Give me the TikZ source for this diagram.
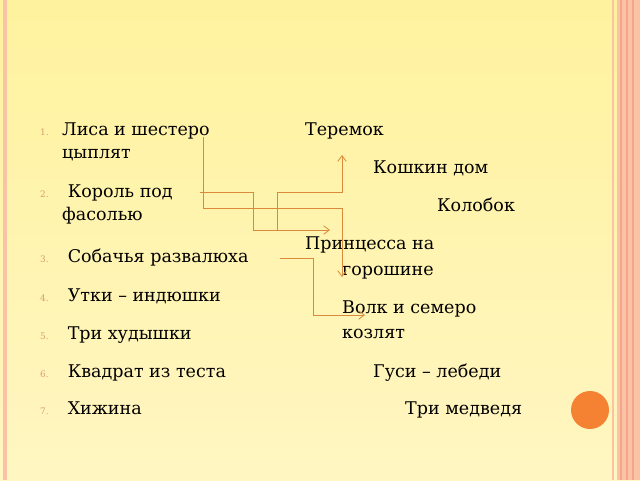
\documentclass[tikz,border=0pt]{standalone}
\usepackage{fontspec}
\setmainfont{DejaVu Serif}
\usetikzlibrary{positioning,arrows.meta}
\definecolor{slide yellow}{HTML}{FFF29E}
\definecolor{slide light}{HTML}{FFF6C2}
\definecolor{stripe pink}{HTML}{FBC3A6}
\definecolor{stripe red}{HTML}{F5A58A}
\definecolor{link orange}{HTML}{D98A3A}
\definecolor{dot orange}{HTML}{F58232}
\definecolor{num tan}{HTML}{D9A070}
\tikzstyle{title} = [anchor=base west, inner sep=0pt, font=\fontsize{17.5}{20}\selectfont]
\tikzstyle{num} = [anchor=base west, inner sep=0pt, text=num tan, font=\fontsize{9}{10}\selectfont]
\tikzstyle{link} = [link orange, thick]
\tikzstyle{link>} = [link, -{Straight Barb[length=2mm, width=3mm]}]
\begin{document}
\begin{tikzpicture}[x=1pt,y=-1pt]
        \useasboundingbox (0,0) rectangle (640,480);
        \shade[top color=slide yellow, bottom color=slide light] (0,0) rectangle (640,480);
        % side stripes
        \fill[stripe pink] (3,0) rectangle (7,480);
        \fill[stripe pink] (612,0) rectangle (614,480);
        \fill[stripe pink] (617,0) rectangle (640,480);
        \foreach \x in {620,626,632} \fill[stripe red] (\x,0) rectangle (\x+1.5,480);
        \fill[dot orange] (590,410) circle (19);
        
        % left column
        \foreach \n/\y in {1/135,2/197,3/262,4/301,5/339,6/377,7/414}
            \node[num] at (40,\y) {\n.};
        \node[title] (lisa) at (62,135) {Лиса и шестеро};
        \node[title] (lisa2) at (62,158) {цыплят};
        \node[title] (korol) at (62,197) {\ Король под};
        \node[title] (korol2) at (62,220) {фасолью};
        \node[title] (sobach) at (62,262) {\ Собачья развалюха};
        \node[title] (utki) at (62,301) {\ Утки – индюшки};
        \node[title] (tri) at (62,339) {\ Три худышки};
        \node[title] (kvadrat) at (62,377) {\ Квадрат из теста};
        \node[title] (hizhina) at (62,414) {\ Хижина};
        
        % right column
        \node[title] (teremok) at (305,135) {Теремок};
        \node[title] (koshkin) at (373,173) {Кошкин дом};
        \node[title] (kolobok) at (437,211) {Колобок};
        \node[title] (princ) at (305,249) {Принцесса на};
        \node[title] (princ2) at (342,275) {горошине};
        \node[title] (volk) at (342,313) {Волк и семеро};
        \node[title] (volk2) at (342,338) {козлят};
        \node[title] (gusi) at (373,377) {Гуси – лебеди};
        \node[title] (medv) at (405,414) {Три медведя};
        
        \coordinate (a0) at (203,137);
        \coordinate (a1) at (342,277);
        \coordinate (b0) at (200,192);
        \coordinate (b1) at (330,230);
        \coordinate (bj) at (277,230);
        \coordinate (b2) at (342,155);
        \coordinate (c0) at (280,258);
        \coordinate (c1) at (365,315);
        
        \draw[link>] (a0) |- (342,208) -- (a1);
        \draw[link>] (b0) -| (253,230) -- (b1);
        \draw[link>] (bj) |- (342,192) -- (b2);
        \draw[link>] (c0) -| (313,315) -- (c1);
    \end{tikzpicture}
\end{document}
